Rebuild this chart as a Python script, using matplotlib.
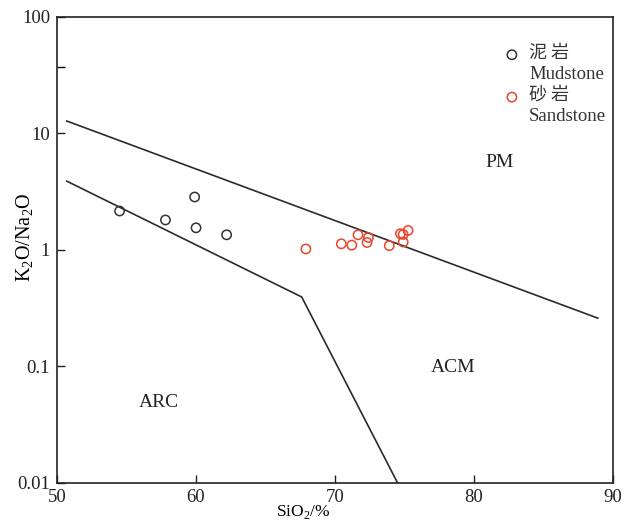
import matplotlib
matplotlib.use("Agg")
import matplotlib.pyplot as plt
from matplotlib.ticker import FixedLocator, NullFormatter

# data
mud_sio2 = [54.5, 57.8, 59.9, 60.0, 62.2]
mud_ratio = [2.16, 1.81, 2.85, 1.55, 1.35]

sand_sio2 = [67.9, 70.45, 71.2, 71.65, 72.4, 72.3, 73.9, 74.7, 74.9, 75.25, 74.9]
sand_ratio = [1.02, 1.13, 1.10, 1.35, 1.28, 1.16, 1.09, 1.38, 1.36, 1.47, 1.17]

# field boundaries
pm_x = [50.7, 88.9]
pm_y = [12.8, 0.26]
arc_x = [50.7, 67.6, 74.5]
arc_y = [3.9, 0.395, 0.01]

fields = ["PM", "ACM", "ARC"]
field_x = [81.8, 78.5, 57.3]
field_y = [5.6, 0.099, 0.049]

serif = ["Liberation Serif", "Noto Sans CJK SC"]
plt.rcParams["font.family"] = serif
plt.rcParams["mathtext.fontset"] = "custom"
plt.rcParams["mathtext.rm"] = "Liberation Serif"

fig = plt.figure(figsize=(6.28, 5.23), dpi=100)
ax = fig.add_axes([0.0908, 0.0765, 0.8855, 0.891])

line_col = "#2b2b2b"
ax.plot(pm_x, pm_y, color=line_col, lw=1.2)
ax.plot(arc_x, arc_y, color=line_col, lw=1.2)

ax.scatter(mud_sio2, mud_ratio, s=45, facecolors="none", edgecolors="#333333", linewidths=1.1, zorder=3)
ax.scatter(sand_sio2, sand_ratio, s=45, facecolors="none", edgecolors="#e8452c", linewidths=1.1, zorder=3)

for name, x, y in zip(fields, field_x, field_y):
    ax.text(x, y, name, fontsize=14, ha="center", va="center", color="#222222")

ax.set_yscale("log")
ax.set_xlim(50, 90)
ax.set_ylim(0.01, 100)
ax.set_xticks([50, 60, 70, 80, 90])
ax.set_xticklabels(["50", "60", "70", "80", "90"])
ax.yaxis.set_major_locator(FixedLocator([0.01, 0.1, 1, 10, 100]))
ax.set_yticklabels(["0.01", "0.1", "1", "10", "100"])
ax.yaxis.set_minor_locator(FixedLocator([37]))
ax.yaxis.set_minor_formatter(NullFormatter())
ax.tick_params(direction="in", length=6, width=1, labelsize=13.5, colors="#222222", pad=5)
ax.tick_params(axis="x", pad=4)
ax.tick_params(which="minor", direction="in", length=6, width=1)
for sp in ax.spines.values():
    sp.set_linewidth(1.2)
    sp.set_color("#222222")

ax.set_xlabel(r"SiO$_2$/%", fontsize=12.5)
ax.xaxis.set_label_coords(0.442, -0.044)
ax.set_ylabel(r"K$_2$O/Na$_2$O", fontsize=14.5)
ax.yaxis.set_label_coords(-0.038, 0.528)

# legend drawn by hand to keep markers beside the Chinese line
ax.scatter([0.818], [0.919], transform=ax.transAxes, s=45, facecolors="none",
           edgecolors="#333333", linewidths=1.1, clip_on=False)
ax.scatter([0.818], [0.828], transform=ax.transAxes, s=45, facecolors="none",
           edgecolors="#e8452c", linewidths=1.1, clip_on=False)
ax.text(0.849, 0.924, "泥 岩", transform=ax.transAxes, fontsize=13, va="center",
        family=["Noto Sans CJK SC"], color="#333333")
ax.text(0.849, 0.876, "Mudstone", transform=ax.transAxes, fontsize=13.5, va="center", color="#333333")
ax.text(0.849, 0.833, "砂 岩", transform=ax.transAxes, fontsize=13, va="center",
        family=["Noto Sans CJK SC"], color="#333333")
ax.text(0.849, 0.786, "Sandstone", transform=ax.transAxes, fontsize=13.5, va="center", color="#333333")

fig.savefig("out.png", dpi=100)
